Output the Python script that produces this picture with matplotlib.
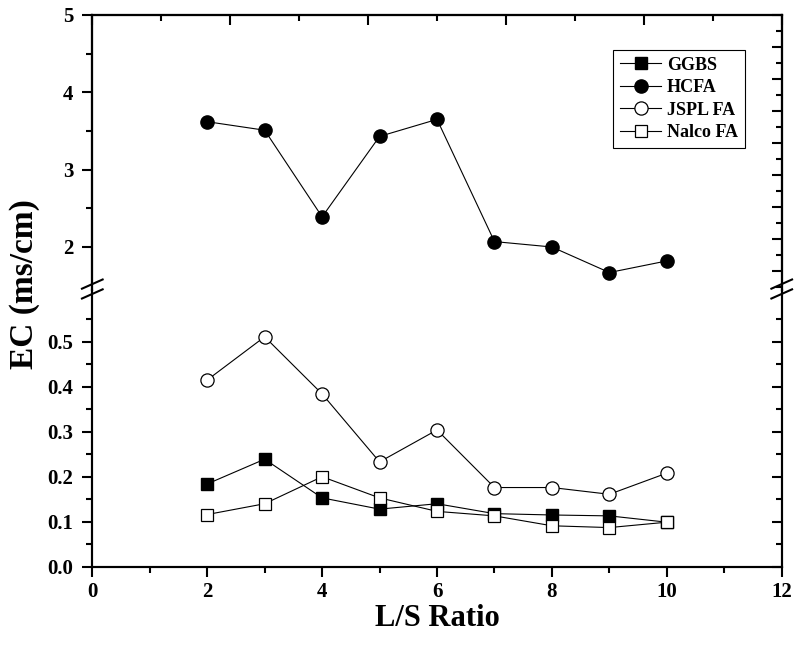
import matplotlib
matplotlib.use("Agg")
from matplotlib import pyplot as plt
from matplotlib.ticker import FixedLocator, MultipleLocator, NullFormatter
import numpy as np

plt.rcParams['font.family'] = ['Liberation Serif', 'DejaVu Serif']
plt.rcParams['font.weight'] = 'bold'

# data
ls_ratio = [2, 3, 4, 5, 6, 7, 8, 9, 10]
ggbs = [0.184, 0.239, 0.153, 0.128, 0.140, 0.118, 0.115, 0.113, 0.099]
hcfa = [3.62, 3.51, 2.39, 3.43, 3.65, 2.07, 2.00, 1.67, 1.82]
jspl_fa = [0.415, 0.511, 0.384, 0.233, 0.304, 0.176, 0.176, 0.161, 0.208]
nalco_fa = [0.116, 0.140, 0.200, 0.153, 0.123, 0.113, 0.091, 0.087, 0.099]

lower_ticks = [0.0, 0.1, 0.2, 0.3, 0.4, 0.5]
lower_minor = [0.05, 0.15, 0.25, 0.35, 0.45, 0.55]
upper_ticks = [2, 3, 4, 5]
x_ticks = [0, 2, 4, 6, 8, 10, 12]


def style_ticks(ax, direction):
    ax.tick_params(which='both', direction=direction, width=1.5)
    ax.tick_params(which='major', length=7.5)
    ax.tick_params(which='minor', length=4)


fig = plt.figure(figsize=(7.95, 6.57), dpi=100)
left, width = 0.1161, 0.8672
bottom, brk, top = 0.1374, 0.5586, 0.9772
ax_lo = fig.add_axes([left, bottom, width, brk - bottom])
ax_up = fig.add_axes([left, brk, width, top - brk])

# twins for the right / top ticks (own scales in the original)
ax_lo_r = ax_lo.twinx()
ax_up_r = ax_up.twinx()
ax_top = ax_up.twiny()

line_kw = dict(color='black', linewidth=0.8)
h_ggbs, = ax_lo.plot(ls_ratio, ggbs, marker='s', markersize=8.5, markerfacecolor='black',
                     markeredgecolor='black', label='GGBS', **line_kw)
h_jspl, = ax_lo.plot(ls_ratio, jspl_fa, marker='o', markersize=9.5, markerfacecolor='white',
                     markeredgecolor='black', markeredgewidth=0.9, label='JSPL FA', **line_kw)
h_nalco, = ax_lo.plot(ls_ratio, nalco_fa, marker='s', markersize=8.5, markerfacecolor='white',
                      markeredgecolor='black', markeredgewidth=0.9, label='Nalco FA', **line_kw)
h_hcfa, = ax_up.plot(ls_ratio, hcfa, marker='o', markersize=9.5, markerfacecolor='black',
                     markeredgecolor='black', label='HCFA', **line_kw)

for ax in (ax_lo, ax_up, ax_lo_r, ax_up_r, ax_top):
    for s in ax.spines.values():
        s.set_linewidth(1.5)

# lower part
ax_lo.set_xlim(0, 12)
ax_lo.set_ylim(0, 0.615)
ax_lo.spines['top'].set_visible(False)
ax_lo.yaxis.set_major_locator(FixedLocator(lower_ticks))
ax_lo.yaxis.set_minor_locator(FixedLocator(lower_minor))
ax_lo.set_yticklabels([f'{t:.1f}' for t in lower_ticks], fontsize=15, fontweight='bold')
ax_lo.xaxis.set_major_locator(FixedLocator(x_ticks))
ax_lo.xaxis.set_minor_locator(MultipleLocator(1))
ax_lo.set_xticklabels([str(t) for t in x_ticks], fontsize=15, fontweight='bold')
style_ticks(ax_lo, 'out')
ax_lo.tick_params(which='both', top=False, right=False)
ax_lo.tick_params(axis='y', pad=6)

ax_lo_r.set_ylim(ax_lo.get_ylim())
ax_lo_r.yaxis.set_major_locator(FixedLocator(lower_ticks))
ax_lo_r.yaxis.set_minor_locator(FixedLocator(lower_minor))
ax_lo_r.yaxis.set_major_formatter(NullFormatter())
style_ticks(ax_lo_r, 'in')
ax_lo_r.spines['top'].set_visible(False)

# upper part
ax_up.set_xlim(0, 12)
ax_up.set_ylim(1.444, 5)
ax_up.spines['bottom'].set_visible(False)
ax_up.yaxis.set_major_locator(FixedLocator(upper_ticks))
ax_up.yaxis.set_minor_locator(FixedLocator([2.5, 3.5, 4.5]))
ax_up.set_yticklabels([str(t) for t in upper_ticks], fontsize=15, fontweight='bold')
style_ticks(ax_up, 'out')
ax_up.tick_params(axis='x', which='both', bottom=False, top=False, labelbottom=False)
ax_up.tick_params(axis='y', which='both', right=False, pad=6)

ax_up_r.set_ylim(17.19, 0)
ax_up_r.yaxis.set_major_locator(MultipleLocator(2))
ax_up_r.yaxis.set_minor_locator(MultipleLocator(1))
ax_up_r.yaxis.set_major_formatter(NullFormatter())
style_ticks(ax_up_r, 'in')
ax_up_r.spines['bottom'].set_visible(False)

ax_top.set_xlim(0, 10)
ax_top.xaxis.set_major_locator(MultipleLocator(2))
ax_top.xaxis.set_minor_locator(MultipleLocator(1))
ax_top.xaxis.set_major_formatter(NullFormatter())
style_ticks(ax_top, 'in')
ax_top.tick_params(axis='x', which='both', bottom=False)
ax_top.spines['bottom'].set_visible(False)

# break marks
for xf in (left, left + width):
    for dy in (0.009, -0.006):
        fig.add_artist(plt.Line2D([xf - 0.013, xf + 0.013], [brk + dy - 0.007, brk + dy + 0.007],
                                  color='black', linewidth=1.5, transform=fig.transFigure))

leg = ax_top.legend([h_ggbs, h_hcfa, h_jspl, h_nalco], ['GGBS', 'HCFA', 'JSPL FA', 'Nalco FA'],
                    loc='upper right', bbox_to_anchor=(0.96, 0.907), fancybox=False,
                    edgecolor='black', framealpha=1, handlelength=2.3, handletextpad=0.3,
                    borderpad=0.4, labelspacing=0.3, prop={'weight': 'bold', 'size': 13})
leg.get_frame().set_linewidth(0.8)

fig.text(0.031, 0.568, 'EC (ms/cm)', rotation=90, ha='center', va='center',
         fontsize=24, fontweight='bold')
fig.text(0.55, 0.059, 'L/S Ratio', ha='center', va='center', fontsize=22, fontweight='bold')

fig.savefig('out.png', dpi=100)
